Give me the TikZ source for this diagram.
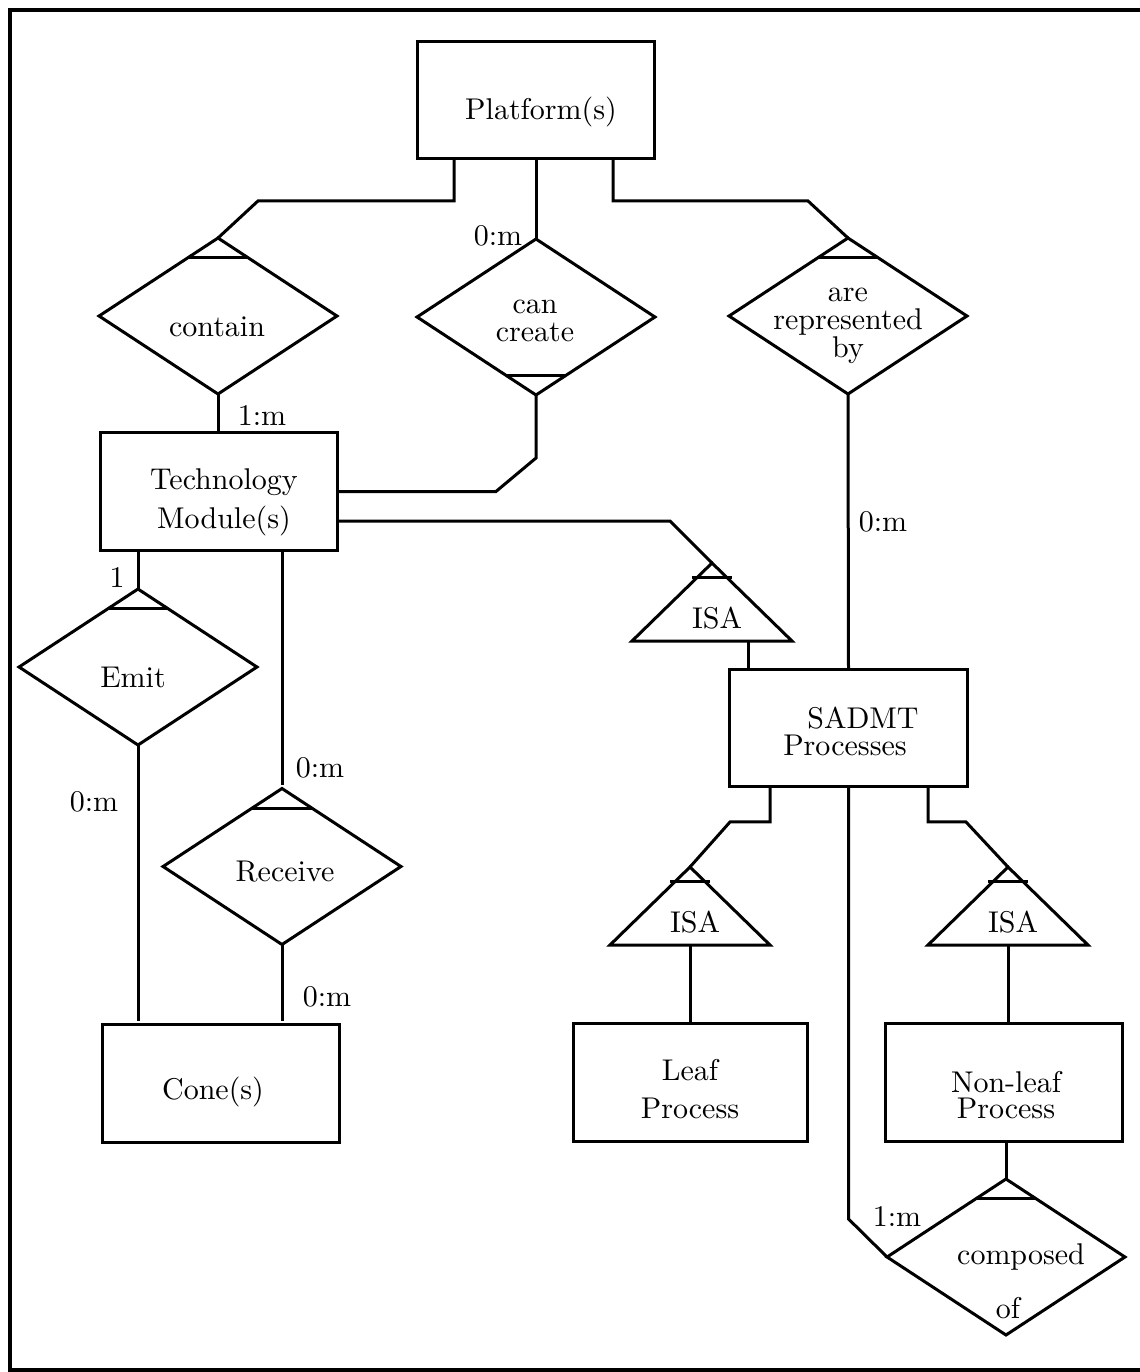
\documentclass[tikz,border=0pt]{standalone}
\usetikzlibrary{shapes.geometric,calc}

% a short stroke across the top or bottom corner of a relationship diamond
\newcommand\capNorth[1]{\draw ($(#1.north)!0.25!(#1.west)$) -- ($(#1.north)!0.25!(#1.east)$);}
\newcommand\capSouth[1]{\draw ($(#1.south)!0.25!(#1.west)$) -- ($(#1.south)!0.25!(#1.east)$);}

\tikzset{
  entity/.style={draw, rectangle, minimum width=79.3pt, minimum height=39.3pt,
                 inner sep=0pt, outer sep=0pt},
  relation/.style={draw, diamond, minimum width=79.3pt, minimum height=52pt,
                   inner sep=0pt, outer sep=0pt},
  txt/.style={inner sep=0pt, align=center, font=\fontsize{10pt}{12pt}\selectfont},
  tight/.style={font=\fontsize{10pt}{9.3pt}\selectfont},
  card/.style={inner sep=0pt, font=\fontsize{10pt}{12pt}\selectfont},
  % ISA triangle: origin at the middle of its base
  isa/.pic={
    \draw (-80,0) -- (0,-78) -- (80,0) -- cycle;
    \draw (-20,-64) -- (20,-64);
    \coordinate (-apex) at (0,-78);
    \coordinate (-base) at (0,0);
    \node[txt] (-txt) at (5,-23) {ISA};
  }
}

\begin{document}
\begin{tikzpicture}[x=0.33333pt, y=-0.33333pt, line width=1pt]
\useasboundingbox (0,0) rectangle (1140,1372);

% frame
\draw[line width=1.1pt] (1140,10) -- (10,10) -- (10,1370) -- (1140,1370);

% entities
\node[entity] (plat)    at (536,100)    {};
\node[entity] (tech)    at (219,491.5)  {};
\node[entity] (cone)    at (221,1083.5) {};
\node[entity] (sadmt)   at (848.5,728)  {};
\node[entity, minimum width=77.7pt] (leaf) at (690.5,1082.5) {};
\node[entity] (nonleaf) at (1004,1082.5) {};

% relationships
\node[relation] (contain) at (218,316)    {};
\node[relation] (create)  at (536,317)    {};
\node[relation] (repr)    at (848,316)    {};
\node[relation] (emit)    at (138,667)    {};
\node[relation] (receive) at (282,866.5)  {};
\node[relation] (compose) at (1006,1257)  {};

\capNorth{contain}
\capSouth{create}
\capNorth{repr}
\capNorth{emit}
\capNorth{receive}
\capNorth{compose}

% generalisations
\pic (isa1) at (712,641) {isa};
\pic (isa2) at (690,945) {isa};
\pic (isa3) at (1008,945) {isa};
\coordinate (isa1-foot) at ($(isa1-base)+(36,0)$);

% texts
\node[txt] (plat-t) at (541,112) {Platform(s)};
\node[txt, font=\fontsize{10pt}{13pt}\selectfont] (tech-t) at (224,502) {Technology\\Module(s)};
\node[txt] (cone-t) at (213,1092) {Cone(s)};
\node[txt] (contain-t) at (217,327) {contain};
\node[txt, tight] (create-t) at (535,321) {can\\create};
\node[txt, tight] (repr-t) at (848,326) {are\\represented\\by};
\node[txt] (emit-t) at (133,677) {Emit};
\node[txt] (receive-t) at (285,872) {Receive};
\node[txt] (sadmt-t1) at (863,718) {SADMT};
\node[txt] (sadmt-t2) at (845,745) {Processes};
\node[txt, font=\fontsize{10pt}{12.7pt}\selectfont] (leaf-t) at (690,1089) {Leaf\\Process};
\node[txt, font=\fontsize{10pt}{8.7pt}\selectfont] (nonleaf-t) at (1006,1095) {Non-leaf\\Process};
\node[txt] (compose-t1) at (1021,1257) {composed};
\node[txt] (compose-t2) at (1008,1308) {of};

% connectors
\draw ($(plat.south)+(-82,0)$) -- ++(0,42) -- ++(-196,0) -- (contain.north);
\draw (plat.south) -- (create.north);
\draw ($(plat.south)+(77,0)$) -- ++(0,42) -- ++(195,0) -- (repr.north);
\draw (contain.south) -- (contain.south |- tech.north);
\draw (create.south) -- ++(0,63) -- ($(tech.east)+(158,0)$) -- (tech.east);
\draw (repr.south) -- (sadmt.north);
\draw ($(tech.east)+(0,29.5)$) -- ++(332,0) -- (isa1-apex);
\draw (isa1-foot) -- (isa1-foot |- sadmt.north);
\draw ($(tech.south)+(-81,0)$) -- (emit.north);
\draw (emit.south) -- ($(emit.south |- cone.north)+(0,-4)$);
\draw ($(tech.south)+(63,0)$) -- ($(receive.north)+(0,-4)$);
\draw (receive.south) -- ($(receive.south |- cone.north)+(0,-4)$);
\draw ($(sadmt.south)+(-78.5,0)$) -- ++(0,35) -- ++(-40,0) -- (isa2-apex);
\draw (sadmt.south) -- ++(0,432) -- (compose.west);
\draw ($(sadmt.south)+(79.5,0)$) -- ++(0,35) -- ++(38,0) -- (isa3-apex);
\draw (isa2-base) -- (isa2-base |- leaf.north);
\draw (isa3-base) -- (isa3-base |- nonleaf.north);
\draw (compose.north |- nonleaf.south) -- (compose.north);

% cardinalities
\node[card] (c1) at (498,236)  {0:m};
\node[card] (c2) at (262,416)  {1:m};
\node[card] (c3) at (883,522)  {0:m};
\node[card] (c4) at (117,577)  {1};
\node[card] (c5) at (94,802)   {0:m};
\node[card] (c6) at (320,768)  {0:m};
\node[card] (c7) at (327,997)  {0:m};
\node[card] (c8) at (897,1216) {1:m};
\end{tikzpicture}
\end{document}
